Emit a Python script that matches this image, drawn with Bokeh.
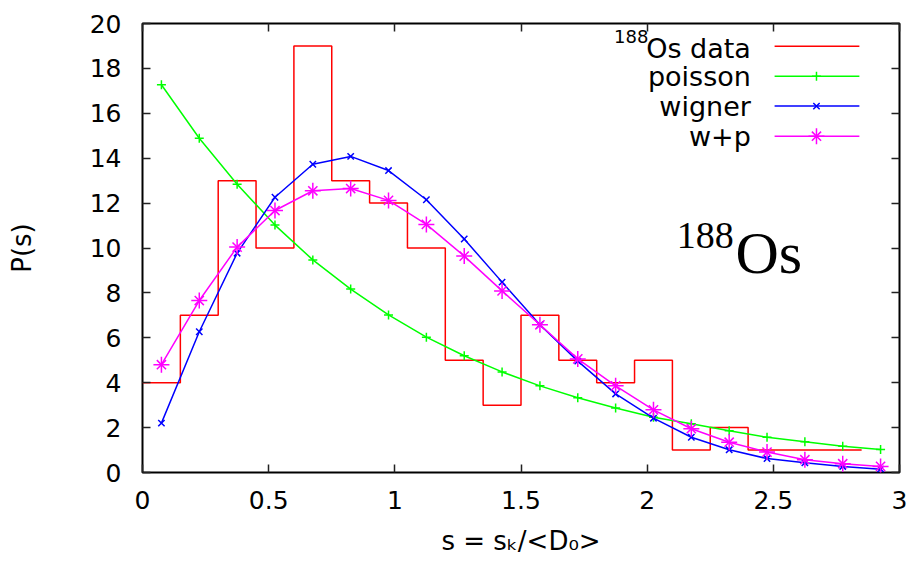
from bokeh.plotting import figure
from bokeh.models import Label, LinearAxis, FixedTicker, CustomJSTickFormatter, Range1d
from bokeh.embed import file_html
from bokeh.resources import INLINE

# ---- data ----
bin_edges = [0.0, 0.15, 0.30, 0.45, 0.60, 0.75, 0.90, 1.05, 1.20, 1.35, 1.50,
             1.65, 1.80, 1.95, 2.10, 2.25, 2.40, 2.55, 2.70, 2.85]
os_counts = [4, 7, 13, 10, 19, 13, 12, 10, 5, 3, 7, 5, 4, 5, 1, 2, 1, 1, 1]

s_points = [0.075, 0.225, 0.375, 0.525, 0.675, 0.825, 0.975, 1.125, 1.275, 1.425,
            1.575, 1.725, 1.875, 2.025, 2.175, 2.325, 2.475, 2.625, 2.775, 2.925]
poisson = [17.27, 14.89, 12.84, 11.02, 9.47, 8.17, 7.02, 6.03, 5.20, 4.48,
           3.86, 3.33, 2.87, 2.46, 2.17, 1.86, 1.57, 1.37, 1.17, 1.02]
wigner = [2.20, 6.27, 9.77, 12.26, 13.73, 14.08, 13.45, 12.15, 10.40, 8.48,
          6.58, 4.96, 3.50, 2.42, 1.57, 1.01, 0.62, 0.43, 0.27, 0.15]
w_plus_p = [4.80, 7.66, 10.04, 11.67, 12.55, 12.65, 12.12, 11.05, 9.64, 8.09,
            6.58, 5.06, 3.86, 2.79, 1.95, 1.35, 0.91, 0.57, 0.39, 0.27]

x_ticks = [0, 0.5, 1, 1.5, 2, 2.5, 3]
y_ticks = [0, 2, 4, 6, 8, 10, 12, 14, 16, 18, 20]

legend_labels = ["Os data", "poisson", "wigner", "w+p"]

SANS = "DejaVu Sans"
SERIF = "Liberation Serif"
PX_PER_Y = 22.45  # frame pixels per y unit (for small text offsets)

def up(px):
    return px / PX_PER_Y

# ---- figure ----
p = figure(width=914, height=564, output_backend="svg", toolbar_location=None,
           x_range=Range1d(0, 3), y_range=Range1d(0, 20),
           min_border_left=142, min_border_right=15, min_border_top=23,
           min_border_bottom=92,
           x_axis_label="s = sₖ/<D₀>", y_axis_label="P(s)")
p.background_fill_color = "white"
p.border_fill_color = "white"
p.outline_line_color = "black"
p.outline_line_width = 2
p.xgrid.visible = False
p.ygrid.visible = False

for ax in (p.xaxis[0], p.yaxis[0]):
    ax.major_tick_in = 8
    ax.major_tick_out = 0
    ax.minor_tick_line_color = None
    ax.axis_line_color = None
    ax.major_tick_line_color = "#222222"
    ax.major_tick_line_width = 1.5
    ax.major_label_text_font = SANS
    ax.major_label_text_font_size = "25px"
    ax.major_label_text_color = "black"
    ax.axis_label_text_font = SANS
    ax.axis_label_text_font_size = "26px"
    ax.axis_label_text_font_style = "normal"
    ax.axis_label_text_color = "black"
p.xaxis[0].ticker = FixedTicker(ticks=x_ticks)
p.yaxis[0].ticker = FixedTicker(ticks=y_ticks)
p.xaxis[0].major_label_standoff = 18
p.yaxis[0].major_label_standoff = 21
p.xaxis[0].axis_label_standoff = 14
p.yaxis[0].axis_label_standoff = 50

for loc, ticks in (("above", x_ticks), ("right", y_ticks)):
    ax = LinearAxis(ticker=FixedTicker(ticks=ticks),
                    formatter=CustomJSTickFormatter(code="return ''"),
                    major_tick_in=8, major_tick_out=0,
                    minor_tick_line_color=None, axis_line_color=None,
                    major_tick_line_color="#222222", major_tick_line_width=1.5,
                    major_label_text_font_size="1px", major_label_standoff=0)
    p.add_layout(ax, loc)

# ---- histogram (steps) ----
hx, hy = [], []
for i, c in enumerate(os_counts):
    hx += [bin_edges[i], bin_edges[i + 1]]
    hy += [c, c]
p.line(hx, hy, line_color="#ff0000", line_width=1.5)

# ---- curves ----
p.line(s_points, poisson, line_color="#00ff00", line_width=1.5)
p.scatter(s_points, poisson, marker="cross", size=9, line_color="#00ff00", line_width=1.5)

p.line(s_points, wigner, line_color="#0000ff", line_width=1.5)
p.scatter(s_points, wigner, marker="x", size=9, line_color="#0000ff", line_width=1.5)

p.line(s_points, w_plus_p, line_color="#ff00ff", line_width=1.5)
p.scatter(s_points, w_plus_p, marker="cross", size=16, line_color="#ff00ff", line_width=1.5)
p.scatter(s_points, w_plus_p, marker="x", size=13, line_color="#ff00ff", line_width=1.5)

# ---- manual legend (text left, sample right) ----
lx0, lx1, lxm = 2.505, 2.841, 2.671
row_line_y = [18.99, 17.65, 16.32, 14.98]
row_text_y = [18.43, 17.16, 15.83, 14.53]
colors = ["#ff0000", "#00ff00", "#0000ff", "#ff00ff"]
for lab, ty, ly, col in zip(legend_labels, row_text_y, row_line_y, colors):
    p.add_layout(Label(x=2.411, y=ty + up(0.38 * 27), text=lab, text_align="right",
                       text_baseline="alphabetic", text_font=SANS,
                       text_font_size="27px", text_color="black"))
    p.line([lx0, lx1], [ly, ly], line_color=col, line_width=1.5)
p.add_layout(Label(x=2.005, y=19.12 + up(0.38 * 18), text="188", text_align="right",
                   text_baseline="alphabetic", text_font=SANS,
                   text_font_size="18px", text_color="black"))
p.scatter([lxm], [row_line_y[1]], marker="cross", size=9, line_color="#00ff00", line_width=1.5)
p.scatter([lxm], [row_line_y[2]], marker="x", size=9, line_color="#0000ff", line_width=1.5)
p.scatter([lxm], [row_line_y[3]], marker="cross", size=16, line_color="#ff00ff", line_width=1.5)
p.scatter([lxm], [row_line_y[3]], marker="x", size=13, line_color="#ff00ff", line_width=1.5)

# ---- 188Os annotation ----
p.add_layout(Label(x=2.343, y=9.93 + up(0.38 * 38), text="188", text_align="right",
                   text_baseline="alphabetic", text_font=SERIF,
                   text_font_size="38px", text_color="black"))
p.add_layout(Label(x=2.350, y=8.775 + up(0.38 * 60), text="Os", text_align="left",
                   text_baseline="alphabetic", text_font=SERIF,
                   text_font_size="60px", text_color="black"))

open("out.html", "w").write(file_html(p, INLINE))
